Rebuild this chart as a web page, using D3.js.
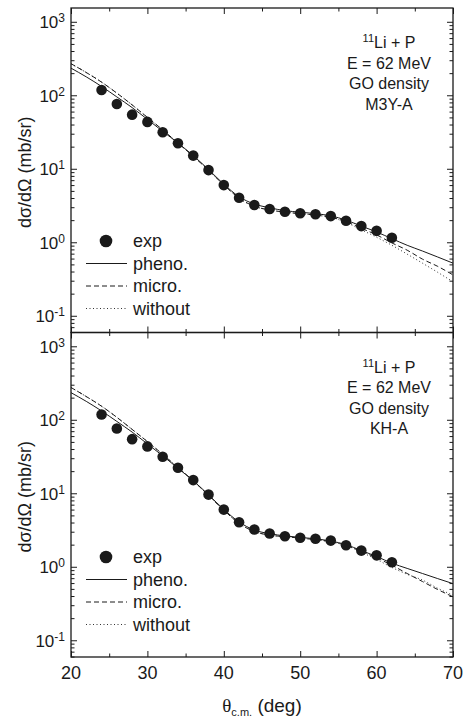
<!DOCTYPE html>
<html><head><meta charset="utf-8">
<script src="https://cdn.jsdelivr.net/npm/d3@7"></script>
<style>
html,body{margin:0;padding:0;background:#fff;}
svg{display:block;font-family:"Liberation Sans",Arial,Helvetica,sans-serif;}
</style></head>
<body>
<svg id="chart" width="465" height="720"></svg>
<script>
// ---- data ----
const curveAngles = [20,22,24,26,28,30,32,34,36,38,40,42,44,46,48,50,52,54,56,58,60,62,64,66,68,70];
const expAngles = [24,26,28,30,32,34,36,38,40,42,44,46,48,50,52,54,56,58,60,62];
const expValues = [118,76,54.5,43.4,31.4,22.2,15.1,9.6,6.0,4.04,3.21,2.83,2.60,2.48,2.41,2.27,1.96,1.66,1.43,1.15];

// top panel (M3Y-A)
const phenoTop   = [234,178,132,95,68,47,32.4,22.4,15.1,9.77,6.17,4.17,3.31,2.95,2.69,2.57,2.45,2.29,2.0,1.66,1.38,1.12,0.91,0.76,0.63,0.52];
const microTop   = [269,204,151,107,74,50,33.9,22.4,14.8,9.55,6.03,3.98,3.09,2.75,2.57,2.45,2.34,2.19,1.91,1.55,1.26,0.98,0.78,0.59,0.47,0.36];
const withoutTop = [269,204,151,107,74,50,33.9,22.4,14.8,9.55,6.03,3.98,3.09,2.75,2.57,2.45,2.34,2.19,1.86,1.48,1.17,0.91,0.69,0.52,0.39,0.29];

// bottom panel (KH-A)
const phenoBot   = [234,178,132,95,68,47,32.4,21.9,14.8,9.55,6.03,4.07,3.16,2.82,2.63,2.51,2.40,2.24,2.0,1.66,1.38,1.12,0.95,0.81,0.69,0.59];
const microBot   = [275,207,153,108,74,50.5,33.9,22.4,14.8,9.33,5.89,3.89,3.02,2.69,2.57,2.45,2.34,2.19,1.95,1.62,1.32,1.05,0.81,0.63,0.49,0.39];
const withoutBot = [275,207,153,108,74,50.5,33.9,22.4,14.8,9.33,5.89,3.89,3.02,2.69,2.57,2.45,2.34,2.19,1.95,1.58,1.26,0.98,0.79,0.66,0.51,0.41];

const xMajorTicks = [20,30,40,50,60,70];
const xMinorTicks = [25,35,45,55,65];
const yMajorExps = [-1,0,1,2,3];
const legendLabels = ["exp","pheno.","micro.","without"];
const annotTop = ["11","Li + P","E = 62 MeV","GO density","M3Y-A"];
const annotBot = ["11","Li + P","E = 62 MeV","GO density","KH-A"];

// ---- layout ----
const svg = d3.select("#chart");
const X0 = 71, X1 = 453;
const yDomain = [0.0592, 1540];
const x = d3.scaleLinear().domain([20,70]).range([X0,X1]);
const ink = "#1a1a1a";

const yMinor = [];
for (let e = -2; e <= 3; e++) for (let m = 2; m <= 9; m++) {
  const v = m * Math.pow(10, e);
  if (v >= yDomain[0] && v <= yDomain[1]) yMinor.push(v);
}

function panel(top, bottom, series, annot, legendY, showXLabels) {
  const y = d3.scaleLog().domain(yDomain).range([bottom, top]);
  const g = svg.append("g");

  const styleAxis = sel => {
    sel.select(".domain").remove();
    sel.selectAll("line").attr("stroke", ink).attr("stroke-width", 1);
    sel.selectAll("text").remove();
  };
  g.append("g").attr("transform",`translate(0,${bottom})`).call(d3.axisBottom(x).tickValues(xMajorTicks).tickSize(-6)).call(styleAxis);
  g.append("g").attr("transform",`translate(0,${bottom})`).call(d3.axisBottom(x).tickValues(xMinorTicks).tickSize(-3.5)).call(styleAxis);
  g.append("g").attr("transform",`translate(0,${top})`).call(d3.axisTop(x).tickValues(xMajorTicks).tickSize(-6)).call(styleAxis);
  g.append("g").attr("transform",`translate(0,${top})`).call(d3.axisTop(x).tickValues(xMinorTicks).tickSize(-3.5)).call(styleAxis);
  const majVals = yMajorExps.map(e => Math.pow(10, e));
  g.append("g").attr("transform",`translate(${X0},0)`).call(d3.axisLeft(y).tickValues(majVals).tickSize(-6)).call(styleAxis);
  g.append("g").attr("transform",`translate(${X0},0)`).call(d3.axisLeft(y).tickValues(yMinor).tickSize(-3.5)).call(styleAxis);
  g.append("g").attr("transform",`translate(${X1},0)`).call(d3.axisRight(y).tickValues(majVals).tickSize(-6)).call(styleAxis);
  g.append("g").attr("transform",`translate(${X1},0)`).call(d3.axisRight(y).tickValues(yMinor).tickSize(-3.5)).call(styleAxis);

  g.append("rect").attr("x",X0).attr("y",top).attr("width",X1-X0).attr("height",bottom-top)
    .attr("fill","none").attr("stroke",ink).attr("stroke-width",1.3);

  yMajorExps.forEach(e => {
    const t = g.append("text").attr("x", 65).attr("y", y(Math.pow(10,e)) + 6.5)
      .attr("text-anchor","end").attr("font-size",17).attr("fill",ink);
    t.append("tspan").text("10");
    t.append("tspan").attr("dy",-6).attr("font-size",12).text(String(e));
  });

  if (showXLabels) {
    xMajorTicks.forEach(v => {
      g.append("text").attr("x", x(v)).attr("y", bottom + 21.5).attr("text-anchor","middle")
        .attr("font-size",18).attr("fill",ink).text(v);
    });
  }

  const cy = (top + bottom) / 2 + 2;
  g.append("text").attr("transform",`translate(31,${cy}) rotate(-90)`).attr("text-anchor","middle")
    .attr("font-size",18).attr("fill",ink).text("dσ/dΩ (mb/sr)");

  const line = vals => d3.line().x((d,i)=>x(curveAngles[i])).y(d=>y(d)).curve(d3.curveMonotoneX)(vals);
  const clipId = "clip" + Math.round(top);
  g.append("clipPath").attr("id",clipId).append("rect").attr("x",X0).attr("y",top).attr("width",X1-X0).attr("height",bottom-top);
  const cg = g.append("g").attr("clip-path",`url(#${clipId})`);
  cg.append("path").attr("d", line(series.without)).attr("fill","none").attr("stroke","#333").attr("stroke-width",1).attr("stroke-dasharray","1,2.5");
  cg.append("path").attr("d", line(series.micro)).attr("fill","none").attr("stroke",ink).attr("stroke-width",1).attr("stroke-dasharray","5,3");
  cg.append("path").attr("d", line(series.pheno)).attr("fill","none").attr("stroke",ink).attr("stroke-width",1);

  cg.selectAll("circle.exp").data(expValues).enter().append("circle")
    .attr("cx",(d,i)=>x(expAngles[i])).attr("cy",d=>y(d)).attr("r",5.3).attr("fill",ink);

  const ax = 389, ay = top + 40;
  const a0 = g.append("text").attr("x",ax).attr("y",ay).attr("text-anchor","middle").attr("font-size",16).attr("fill",ink);
  a0.append("tspan").attr("font-size",11).attr("dy",-6).text(annot[0]);
  a0.append("tspan").attr("dy",6).text(annot[1]);
  for (let i = 2; i < annot.length; i++) {
    g.append("text").attr("x",ax).attr("y",ay + (i-1)*20.5).attr("text-anchor","middle")
      .attr("font-size",16).attr("fill",ink).text(annot[i]);
  }

  const step = 22.5;
  g.append("circle").attr("cx",106).attr("cy",legendY).attr("r",6.3).attr("fill",ink);
  const dashes = [null, "5,3", "1,2.5"];
  dashes.forEach((ds, i) => {
    const ly = legendY + (i+1)*step;
    const l = g.append("line").attr("x1",86).attr("x2",127).attr("y1",ly).attr("y2",ly)
      .attr("stroke", i===2 ? "#333" : ink).attr("stroke-width",1);
    if (ds) l.attr("stroke-dasharray", ds);
  });
  legendLabels.forEach((lab, i) => {
    g.append("text").attr("x",133).attr("y",legendY + i*step + 6).attr("font-size",18).attr("fill",ink).text(lab);
  });
}

panel(8, 332.5, {pheno: phenoTop, micro: microTop, without: withoutTop}, annotTop, 241, false);
panel(332.5, 657, {pheno: phenoBot, micro: microBot, without: withoutBot}, annotBot, 557, true);

const xt = svg.append("text").attr("x", 262).attr("y", 712).attr("text-anchor","middle").attr("font-size",19).attr("fill",ink);
xt.append("tspan").attr("font-family","'Liberation Serif',serif").text("θ");
xt.append("tspan").attr("font-size",11).attr("dy",4).text("c.m.");
xt.append("tspan").attr("dy",-4).text(" (deg)");
</script>
</body></html>
